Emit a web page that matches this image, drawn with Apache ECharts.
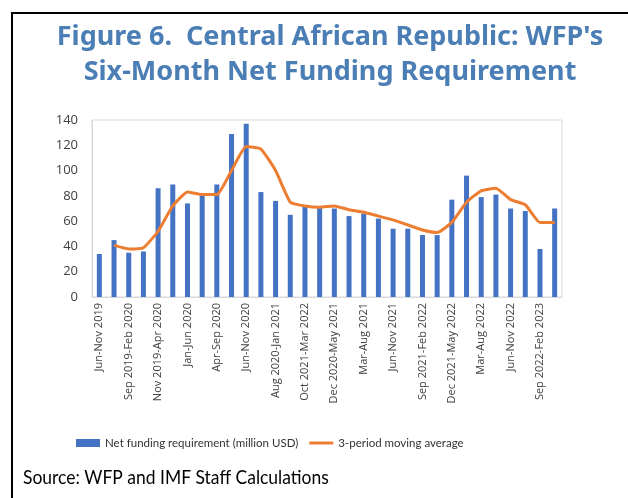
<!DOCTYPE html>
<html>
<head>
<meta charset="utf-8">
<script src="https://cdn.jsdelivr.net/npm/echarts@6/dist/echarts.min.js"></script>
<style>
  html, body { margin: 0; padding: 0; background: #fff; }
  #chart { width: 628px; height: 498px; }
</style>
</head>
<body>
<div id="chart"></div>
<script>
  // periods (only every other one carries a label in the source figure)
  var categories = [
    'Jun-Nov 2019', '', 'Sep 2019-Feb 2020', '', 'Nov 2019-Apr 2020', '',
    'Jan-Jun 2020', '', 'Apr-Sep 2020', '', 'Jun-Nov 2020', '',
    'Aug 2020-Jan 2021', '', 'Oct 2021-Mar 2022', '', 'Dec 2020-May 2021', '',
    'Mar-Aug 2021', '', 'Jun-Nov 2021', '', 'Sep 2021-Feb 2022', '',
    'Dec 2021-May 2022', '', 'Mar-Aug 2022', '', 'Jun-Nov 2022', '',
    'Sep 2022-Feb 2023', ''
  ];
  // net funding requirement, million USD
  var netFunding = [
    34, 45, 35, 36, 86, 89, 74, 80, 89, 129, 137, 83, 76, 65, 72, 71,
    70, 64, 66, 62, 54, 54, 49, 49, 77, 96, 79, 81, 70, 68, 38, 70
  ];
  // 3-period moving average
  var movingAvg = [
    null, 41, 38, 39, 52, 72, 83, 81, 81, 100, 119, 117, 100, 75, 72, 71,
    72, 69, 67, 64, 61, 57, 53, 51, 59, 75, 84, 86, 77, 73, 59, 59
  ];
  var yTicks = { min: 0, max: 140, step: 20 };

  var chart = echarts.init(document.getElementById('chart'));
  var option = {
    animation: false,
    title: {
      text: "Figure 6.  Central African Republic: WFP's\nSix-Month Net Funding Requirement",
      left: 325,
      top: 15,
      textAlign: 'center',
      textStyle: {
        fontFamily: 'Noto Sans',
        fontWeight: 'bold',
        fontSize: 27,
        lineHeight: 35,
        color: '#4A7EB5'
      }
    },
    grid: {
      left: 92,
      right: 66,
      top: 120,
      bottom: 201,
      show: true,
      borderColor: '#d9d9d9',
      borderWidth: 1
    },
    legend: {
      left: 71,
      top: 432,
      itemWidth: 24,
      itemHeight: 8,
      itemGap: 11,
      textStyle: { fontFamily: 'Lato', fontSize: 11.5, color: '#333' },
      data: [
        { name: 'Net funding requirement (million USD)', icon: 'rect' },
        { name: '3-period moving average', icon: 'path://M0,0L24,0L24,3L0,3Z' }
      ]
    },
    xAxis: {
      type: 'category',
      data: categories,
      axisTick: { show: false },
      axisLine: { lineStyle: { color: '#d9d9d9' } },
      axisLabel: {
        interval: 1,
        rotate: 90,
        margin: 6,
        fontFamily: 'Open Sans',
        fontSize: 11,
        color: '#404040'
      }
    },
    yAxis: {
      type: 'value',
      min: yTicks.min,
      max: yTicks.max,
      interval: yTicks.step,
      splitLine: { show: false },
      axisTick: { show: false },
      axisLine: { show: true, lineStyle: { color: '#d9d9d9' } },
      axisLabel: { fontFamily: 'Open Sans', fontSize: 13, color: '#404040', margin: 14 }
    },
    series: [
      {
        name: 'Net funding requirement (million USD)',
        type: 'bar',
        barWidth: 5,
        itemStyle: { color: '#4472C4' },
        data: netFunding
      },
      {
        name: '3-period moving average',
        type: 'line',
        symbol: 'none',
        smooth: 0.15,
        connectNulls: false,
        lineStyle: { color: '#ED7D31', width: 3 },
        itemStyle: { color: '#ED7D31' },
        data: movingAvg
      }
    ],
    graphic: [
      {
        type: 'rect',
        shape: { x: 12, y: 13, width: 700, height: 600 },
        style: { fill: 'none', stroke: '#000', lineWidth: 2 },
        silent: true
      },
      {
        type: 'text',
        x: 23,
        y: 468,
        scaleX: 0.92,
        style: {
          text: 'Source: WFP and IMF Staff Calculations',
          font: '19px Lato',
          fill: '#000'
        }
      }
    ]
  };
  chart.setOption(option);
</script>
</body>
</html>
